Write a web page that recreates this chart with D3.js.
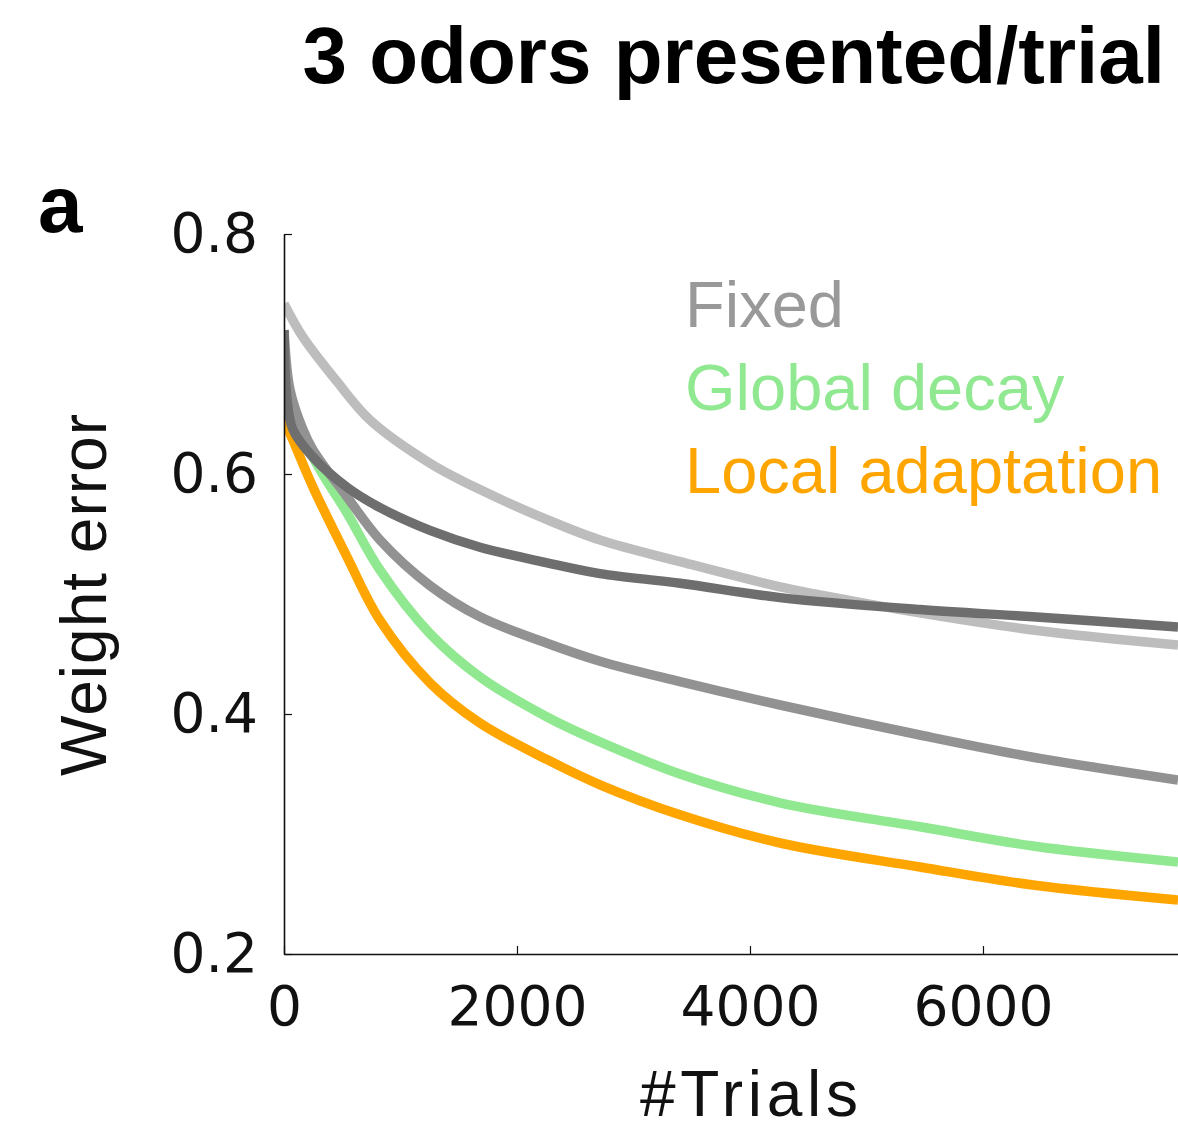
<!DOCTYPE html>
<html>
<head>
<meta charset="utf-8">
<script src="https://cdn.jsdelivr.net/npm/d3@7"></script>
<style>
  html, body { margin: 0; padding: 0; background: #fff; }
  svg { display: block; }
</style>
</head>
<body>
<svg id="chart" width="1178" height="1130"></svg>
<script>
// Weight error vs. number of trials, 3 odors presented per trial
const fixedLightTrials  = [0, 163, 455, 738, 1253, 1682, 2258, 2713, 3399, 4258, 4833, 5288, 6429, 7674];
const fixedLightErr     = [0.742, 0.714, 0.677, 0.645, 0.609, 0.587, 0.562, 0.545, 0.527, 0.506, 0.495, 0.487, 0.470, 0.4575];

const fixedDarkTrials   = [0, 26, 77, 249, 541, 824, 1253, 1682, 2258, 2713, 3399, 4258, 5459, 6429, 7674];
const fixedDarkErr      = [0.720, 0.662, 0.637, 0.614, 0.589, 0.572, 0.553, 0.539, 0.526, 0.517, 0.509, 0.497, 0.487, 0.481, 0.4725];

const fixedMidTrials    = [0, 52, 163, 249, 541, 824, 1253, 1682, 2258, 2713, 3399, 4258, 5459, 6429, 7674];
const fixedMidErr       = [0.720, 0.670, 0.637, 0.620, 0.581, 0.545, 0.507, 0.481, 0.459, 0.444, 0.427, 0.4075, 0.3825, 0.364, 0.345];

const globalDecayTrials = [0, 249, 541, 824, 1253, 1682, 2258, 2713, 3399, 4258, 5459, 6429, 7674];
const globalDecayErr    = [0.670, 0.614, 0.5675, 0.520, 0.467, 0.431, 0.3975, 0.3767, 0.350, 0.326, 0.306, 0.290, 0.2767];

const localAdaptTrials  = [0, 77, 249, 541, 824, 1253, 1682, 2258, 2713, 3399, 4258, 5459, 6429, 7674];
const localAdaptErr     = [0.645, 0.628, 0.589, 0.531, 0.478, 0.426, 0.3925, 0.362, 0.341, 0.316, 0.2925, 0.2725, 0.2575, 0.245];

const xTicks = [0, 2000, 4000, 6000];
const yTicks = [0.2, 0.4, 0.6, 0.8];
const legendLabels = ["Fixed", "Global decay", "Local adaptation"];
const legendColors = ["#999999", "#90e890", "#ffa500"];

// drawn bottom-up: the fixed curves sit on top
const series = [
  { x: localAdaptTrials,  y: localAdaptErr,  color: "#ffa500" },
  { x: globalDecayTrials, y: globalDecayErr, color: "#90e890" },
  { x: fixedLightTrials,  y: fixedLightErr,  color: "#bdbdbd" },
  { x: fixedMidTrials,    y: fixedMidErr,    color: "#929292" },
  { x: fixedDarkTrials,   y: fixedDarkErr,   color: "#6e6e6e" }
];

const svg = d3.select("#chart");
const x = d3.scaleLinear().domain([0, 7674]).range([284, 1178]);
const y = d3.scaleLinear().domain([0.2, 0.8]).range([954, 234]);

// Title
svg.append("text")
  .attr("x", 1165).attr("y", 83)
  .attr("text-anchor", "end")
  .attr("font-family", "Liberation Sans, Arial, sans-serif")
  .attr("font-weight", "bold")
  .attr("font-size", 80)
  .attr("fill", "#000")
  .text("3 odors presented/trial");

// Panel letter
svg.append("text")
  .attr("x", 38).attr("y", 232)
  .attr("font-family", "Liberation Sans, Arial, sans-serif")
  .attr("font-weight", "bold")
  .attr("font-size", 80)
  .attr("fill", "#000")
  .text("a");

// Curves
svg.append("clipPath").attr("id", "plot-clip")
  .append("rect").attr("x", 285).attr("y", 200).attr("width", 900).attr("height", 754);

const line = d3.line()
  .x(d => x(d[0]))
  .y(d => y(d[1]))
  .curve(d3.curveCatmullRom.alpha(0.5));

const curves = svg.append("g").attr("clip-path", "url(#plot-clip)");
series.forEach(s => {
  curves.append("path")
    .datum(s.x.map((t, i) => [t, s.y[i]]))
    .attr("d", line)
    .attr("fill", "none")
    .attr("stroke", s.color)
    .attr("stroke-width", 9.5)
    .attr("stroke-linejoin", "round")
    .attr("stroke-linecap", "butt");
});

// Axes
const yAxis = d3.axisLeft(y).tickValues(yTicks).tickFormat(d3.format(".1f"))
  .tickSizeInner(-8).tickSizeOuter(0).tickPadding(26);
const xAxis = d3.axisBottom(x).tickValues(xTicks).tickFormat(d3.format("d"))
  .tickSizeInner(-8).tickSizeOuter(0).tickPadding(32);

const gy = svg.append("g").attr("transform", "translate(284,0)").call(yAxis);
const gx = svg.append("g").attr("transform", "translate(0,954)").call(xAxis);

[gx, gy].forEach(g => {
  g.select(".domain").attr("stroke", "#111").attr("stroke-width", 1.6);
  g.selectAll(".tick line").attr("stroke", "#111").attr("stroke-width", 1.2);
  g.selectAll(".tick text")
    .attr("font-family", "DejaVu Sans, sans-serif")
    .attr("font-size", 55)
    .attr("fill", "#111");
});

// Axis titles
svg.append("text")
  .attr("transform", "translate(106,595) rotate(-90)")
  .attr("text-anchor", "middle")
  .attr("font-family", "Liberation Sans, Arial, sans-serif")
  .attr("font-size", 64)
  .attr("textLength", 362)
  .attr("lengthAdjust", "spacing")
  .attr("fill", "#111")
  .text("Weight error");

svg.append("text")
  .attr("x", 749).attr("y", 1116)
  .attr("text-anchor", "middle")
  .attr("font-family", "Liberation Sans, Arial, sans-serif")
  .attr("font-size", 64)
  .attr("textLength", 218)
  .attr("lengthAdjust", "spacing")
  .attr("fill", "#111")
  .text("#Trials");

// Legend
svg.append("g").selectAll("text")
  .data(legendLabels)
  .join("text")
  .attr("x", 685)
  .attr("y", (d, i) => 327 + i * 83)
  .attr("font-family", "Liberation Sans, Arial, sans-serif")
  .attr("font-size", 65)
  .attr("fill", (d, i) => legendColors[i])
  .text(d => d);
</script>
</body>
</html>
